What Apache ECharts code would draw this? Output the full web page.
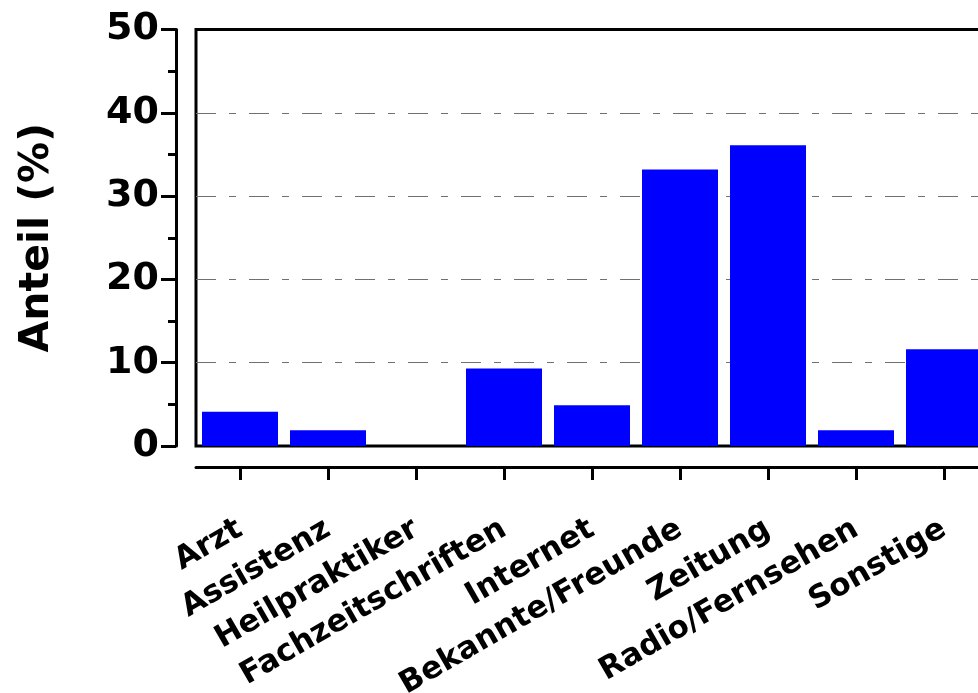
<!DOCTYPE html>
<html><head><meta charset="utf-8">
<script src="https://cdn.jsdelivr.net/npm/echarts@6/dist/echarts.min.js"></script>
<style>html,body{margin:0;padding:0;background:#fff}#c{width:978px;height:693px}</style>
</head><body><div id="c"></div>
<script>
const categories = ['Arzt','Assistenz','Heilpraktiker','Fachzeitschriften','Internet','Bekannte/Freunde','Zeitung','Radio/Fernsehen','Sonstige'];
const values = [4.1, 1.9, 0, 9.3, 4.9, 33.2, 36.1, 1.9, 11.6];
const yTicks = [0, 10, 20, 30, 40, 50];
const yName = 'Anteil (%)';

const FONT = "'Comic Sans MS', 'DejaVu Sans', sans-serif";
const chart = echarts.init(document.getElementById('c'), null, {renderer:'canvas'});
chart.setOption({
  animation: false,
  backgroundColor: '#fff',
  grid: {left: 196, top: 29.5, width: 792, height: 416.5, outerBoundsMode: 'none', containLabel: false,
         show: true, borderColor: '#000', borderWidth: 3, backgroundColor: 'transparent'},
  xAxis: {
    type: 'category', data: categories, offset: 21,
    axisLine: {show: true, onZero: false, lineStyle: {color: '#000', width: 3}},
    axisTick: {show: true, interval: 0, alignWithLabel: true, inside: false, length: 13, lineStyle: {color: '#000', width: 3}},
    axisLabel: {rotate: 30, margin: 60, interval: 0, color: '#000', fontFamily: FONT, fontWeight: 'bold', fontSize: 31}
  },
  yAxis: {
    type: 'value', min: yTicks[0], max: yTicks[yTicks.length-1], interval: 10, offset: 20,
    name: yName, nameLocation: 'middle', nameGap: 118, nameRotate: 90,
    nameTextStyle: {color: '#000', fontFamily: FONT, fontWeight: 'bold', fontSize: 41},
    axisLine: {show: true, lineStyle: {color: '#000', width: 3}},
    axisTick: {show: true, length: 15, lineStyle: {color: '#000', width: 3}},
    minorTick: {show: true, splitNumber: 2, length: 8, lineStyle: {color: '#000', width: 3}},
    axisLabel: {margin: 17, color: '#000', fontFamily: FONT, fontWeight: 'bold', fontSize: 38},
    splitLine: {show: true, lineStyle: {color: ['rgba(0,0,0,0)','#707070','#707070','#707070','#707070','rgba(0,0,0,0)'], width: 1.2, type: [20, 13, 7, 13]}}
  },
  series: [{
    type: 'bar', data: values, barWidth: 76,
    itemStyle: {color: '#0000ff'}
  }]
});
</script></body></html>
